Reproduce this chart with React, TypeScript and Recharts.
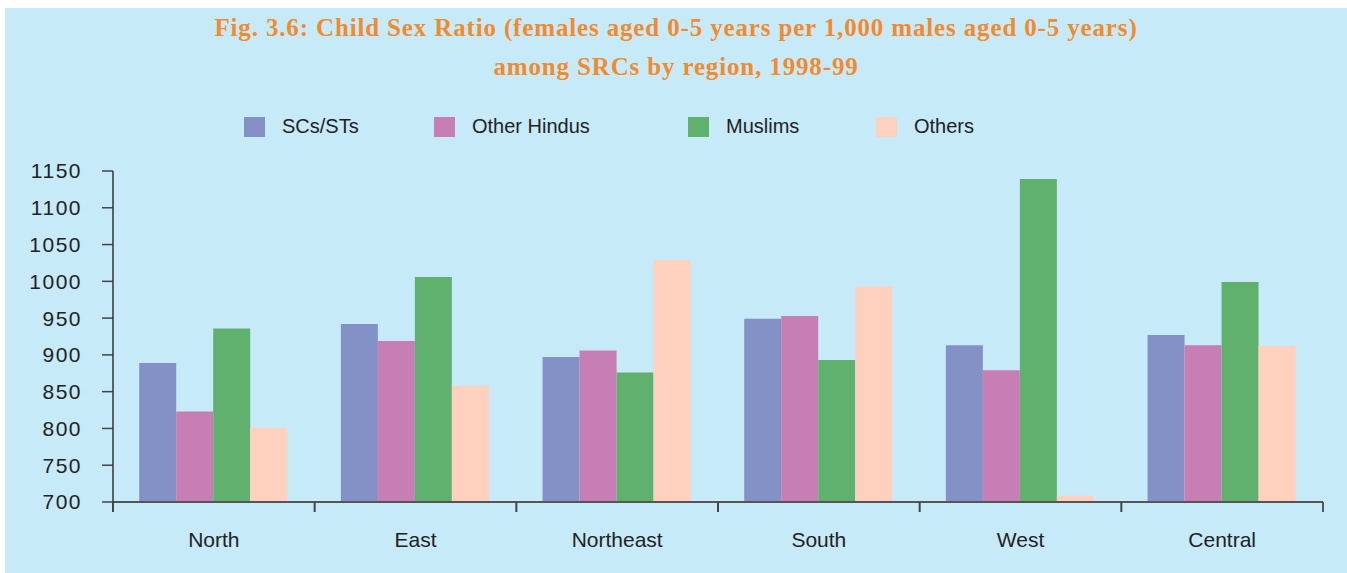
import React from "react"
import { BarChart, Bar, XAxis, YAxis, Legend } from "recharts"

const regions = ["North", "East", "Northeast", "South", "West", "Central"]
const scsSts = [889, 942, 897, 949, 913, 927]
const otherHindus = [823, 919, 906, 953, 879, 913]
const muslims = [936, 1006, 876, 893, 1139, 999]
const others = [801, 858, 1029, 993, 709, 912]
const yTicks = [700, 750, 800, 850, 900, 950, 1000, 1050, 1100, 1150]

const series = [
  { key: "scsSts", name: "SCs/STs", color: "#8491C6" },
  { key: "otherHindus", name: "Other Hindus", color: "#C77EB5" },
  { key: "muslims", name: "Muslims", color: "#61B16E" },
  { key: "others", name: "Others", color: "#FDD1BE" }
]

const data = regions.map((region, i) => ({
  region,
  scsSts: scsSts[i],
  otherHindus: otherHindus[i],
  muslims: muslims[i],
  others: others[i]
}))

const W = 1342
const H = 565
// legend (top) adds its own height (~23px) on top of margin.top
const margin = { top: 140, right: 24, left: 28, bottom: 31 }
const yAxisWidth = 80
const plotWidth = W - margin.left - margin.right - yAxisWidth
const band = plotWidth / regions.length

const legendWidths = [190, 254, 188, 120]

function RegionTick(props: any) {
  const { x, y, payload, index } = props
  const left = x - band / 2
  const right = x + band / 2
  return (
    <g>
      <line x1={left} x2={left} y1={y} y2={y + 10} stroke="#444" strokeWidth={2} />
      {index === regions.length - 1 && (
        <line x1={right} x2={right} y1={y} y2={y + 10} stroke="#555" strokeWidth={2} />
      )}
      <text x={x} y={y + 45} textAnchor="middle" fontSize={21} fill="#222">
        {payload.value}
      </text>
    </g>
  )
}

function LegendRow() {
  return (
    <div style={{ display: "flex", alignItems: "center", height: 23 }}>
      {series.map((s, i) => (
        <div key={s.key} style={{ display: "flex", alignItems: "center", width: legendWidths[i] }}>
          <span style={{ width: 21, height: 20, background: s.color, display: "inline-block", marginRight: 17 }} />
          <span style={{ fontSize: 20, color: "#222" }}>{s.name}</span>
        </div>
      ))}
    </div>
  )
}

export default function App() {
  return (
    <div
      style={{
        position: "absolute",
        left: 5,
        top: 8,
        width: W,
        height: H,
        background: "#C7EAF9",
        fontFamily: "'Liberation Sans', Arial, sans-serif"
      }}
    >
      <div
        style={{
          position: "absolute",
          top: 0,
          left: 0,
          width: W,
          textAlign: "center",
          fontFamily: "'Liberation Serif', serif",
          fontWeight: "bold",
          fontSize: 25,
          letterSpacing: 0.85,
          lineHeight: "39px",
          color: "#F28A2E"
        }}
      >
        Fig. 3.6: Child Sex Ratio (females aged 0-5 years per 1,000 males aged 0-5 years)
        <br />
        among SRCs by region, 1998-99
      </div>
      <BarChart width={W} height={H} data={data} margin={margin} barCategoryGap="13%" barGap={0}>
        <XAxis
          dataKey="region"
          axisLine={{ stroke: "#555", strokeWidth: 2 }}
          tickLine={false}
          tickSize={0}
          tickMargin={0}
          height={40}
          interval={0}
          tick={<RegionTick />}
        />
        <YAxis
          width={yAxisWidth}
          domain={[700, 1150]}
          ticks={yTicks}
          allowDataOverflow
          axisLine={{ stroke: "#333", strokeWidth: 1.5 }}
          tickLine={{ stroke: "#444", strokeWidth: 1.5 }}
          tickSize={11}
          tickMargin={20}
          tick={{ fontSize: 21, fill: "#222", letterSpacing: 1.5 }}
        />
        <Legend
          verticalAlign="top"
          height={23}
          wrapperStyle={{ top: 107, left: 239, width: 800 }}
          content={() => <LegendRow />}
        />
        {series.map((s) => (
          <Bar key={s.key} dataKey={s.key} name={s.name} fill={s.color} isAnimationActive={false} />
        ))}
      </BarChart>
    </div>
  )
}
